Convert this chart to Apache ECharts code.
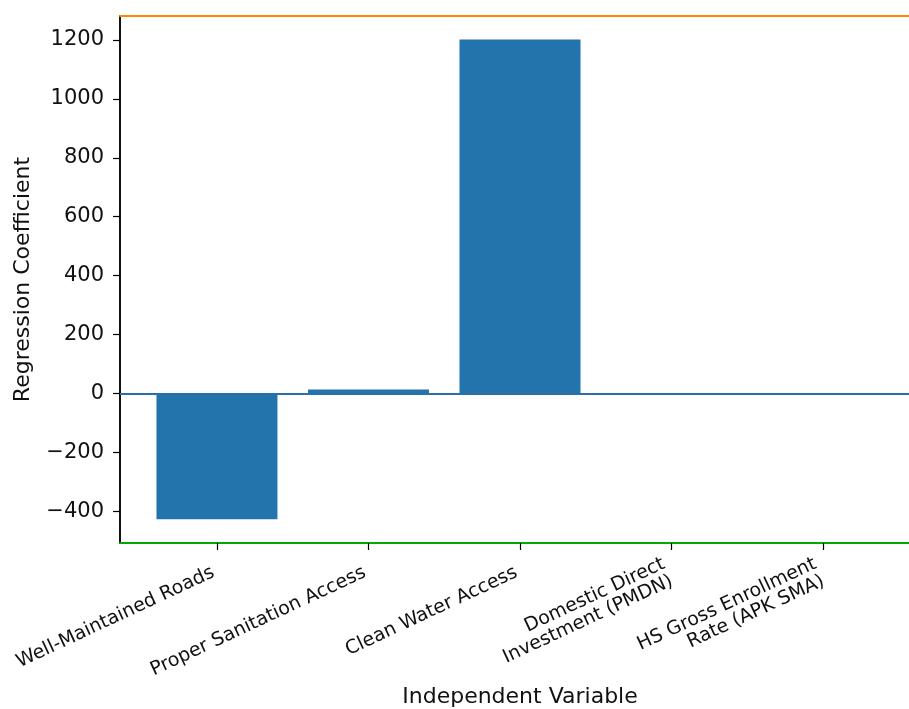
<!DOCTYPE html>
<html>
<head>
<meta charset="utf-8">
<script src="https://cdn.jsdelivr.net/npm/echarts@6/dist/echarts.min.js"></script>
<style>
html,body{margin:0;padding:0;background:#fff;overflow:hidden;}
#chart{width:940px;height:709px;}
</style>
</head>
<body>
<div id="chart"></div>
<script>
const categories = [
  "Well-Maintained Roads",
  "Proper Sanitation Access",
  "Clean Water Access",
  "Domestic Direct\nInvestment (PMDN)",
  "HS Gross Enrollment\nRate (APK SMA)"
];
const coefficients = [-426, 14, 1201, 0.3, 0.8];
const yTicks = [-400, -200, 0, 200, 400, 600, 800, 1000, 1200];
const xTicks = [0, 1, 2, 3, 4];

const FONT = "'DejaVu Sans', sans-serif";
const barColor = "#2373ad";

const chart = echarts.init(document.getElementById('chart'), null, {renderer: 'canvas'});
chart.setOption({
  animation: false,
  backgroundColor: '#ffffff',
  grid: {
    left: 120, top: 16, width: 800, height: 527,
    show: false,
    containLabel: false,
    outerBoundsMode: 'none'
  },
  xAxis: [{
    type: 'value',
    min: -0.64, max: 4.64,
    name: 'Independent Variable',
    nameLocation: 'middle',
    nameGap: 142,
    nameTextStyle: {fontFamily: FONT, fontSize: 22, color: '#111'},
    axisLine: {show: true, onZero: false, lineStyle: {color: '#00aa00', width: 2}},
    axisTick: {show: true, length: 7, lineStyle: {color: '#000', width: 1.2}, customValues: xTicks},
    axisLabel: {
      customValues: xTicks,
      rotate: 25,
      margin: 27,
      fontFamily: FONT, fontSize: 19, color: '#111',
      align: 'right',
      padding: [0, 4, 0, 0],
      formatter: v => categories[Math.round(v)] || ''
    },
    splitLine: {show: false}
  }, {
    type: 'value',
    position: 'top',
    min: -0.64, max: 4.64,
    axisLine: {show: true, onZero: false, lineStyle: {color: '#ff8800', width: 2}},
    axisTick: {show: false},
    axisLabel: {show: false},
    splitLine: {show: false}
  }],
  yAxis: {
    type: 'value',
    min: -507, max: 1281,
    name: 'Regression Coefficient',
    nameLocation: 'middle',
    nameGap: 86,
    nameTextStyle: {fontFamily: FONT, fontSize: 22, color: '#111'},
    axisLine: {show: true, onZero: false, lineStyle: {color: '#111', width: 2}},
    axisTick: {show: true, length: 7, lineStyle: {color: '#000', width: 1.2}, customValues: yTicks},
    axisLabel: {
      customValues: yTicks,
      margin: 16,
      fontFamily: FONT, fontSize: 21, color: '#111',
      formatter: v => String(v).replace('-', '\u2212')
    },
    splitLine: {show: false}
  },
  series: [{
    type: 'bar',
    xAxisIndex: 0,
    data: coefficients.map((v, i) => [i, v]),
    barWidth: 121,
    itemStyle: {color: barColor},
    markLine: {
      silent: true,
      symbol: ['none', 'none'],
      label: {show: false},
      lineStyle: {color: '#2a6fa8', width: 2, type: 'solid'},
      data: [{yAxis: 0}]
    }
  }]
});
</script>
</body>
</html>
